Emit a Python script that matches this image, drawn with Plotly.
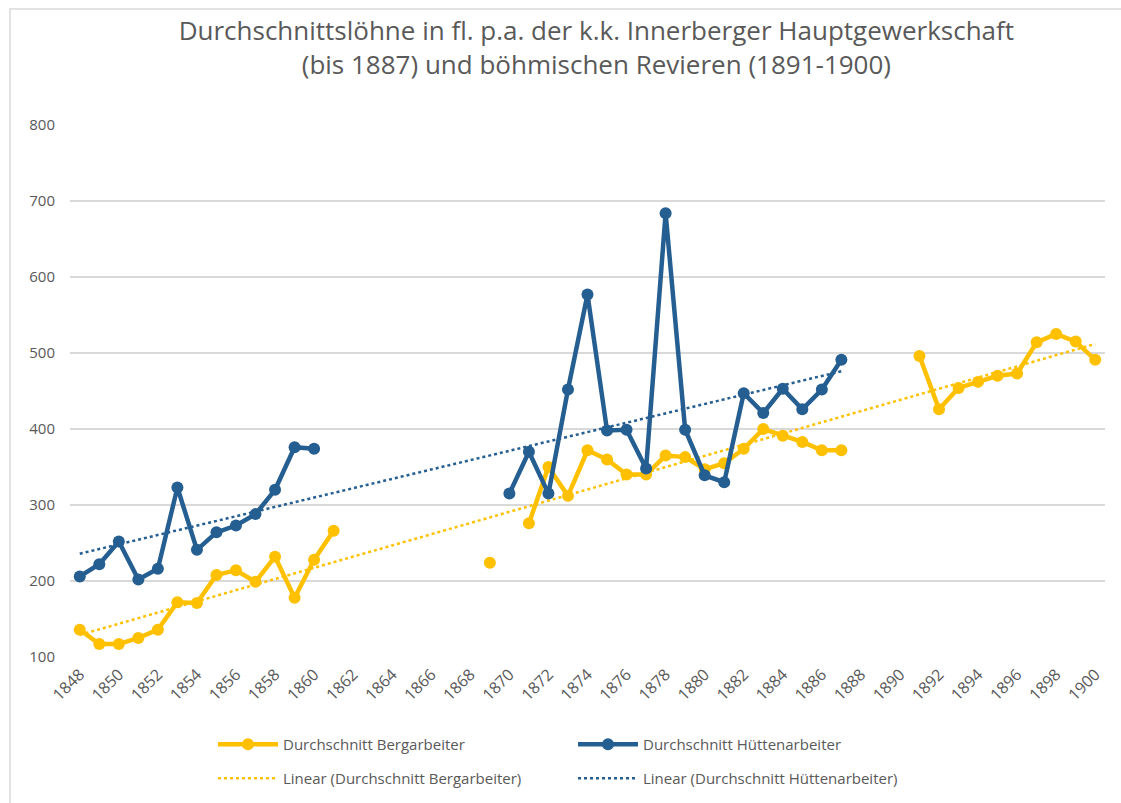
import numpy as np
import plotly.graph_objects as go

years = list(range(1848, 1901))

berg = [136, 117, 117, 125, 136, 172, 171, 208, 214, 199, 232, 178, 228, 266,   # 1848-1861
        None, None, None, None, None, None, None,                                # 1862-1868
        224, None,                                                               # 1869-1870
        276, 350, 312, 372, 360, 340, 340, 365, 363, 347, 355, 374, 400, 391, 383, 372, 372,  # 1871-1887
        None, None, None,                                                        # 1888-1890
        496, 426, 454, 462, 470, 473, 514, 525, 515, 491]                        # 1891-1900

huette = [206, 222, 252, 202, 216, 323, 241, 264, 273, 288, 320, 376, 374,      # 1848-1860
          None, None, None, None, None, None, None, None, None,                  # 1861-1869
          315, 370, 315, 452, 577, 398, 399, 348, 684, 399, 339, 330, 447, 421, 453, 426, 452, 491,  # 1870-1887
          None, None, None, None, None, None, None, None, None, None, None, None, None]  # 1888-1900

tick_years = list(range(1848, 1901, 2))
y_ticks = [100, 200, 300, 400, 500, 600, 700, 800]

title_text = ("Durchschnittslöhne in fl. p.a. der k.k. Innerberger Hauptgewerkschaft<br>"
              "(bis 1887) und böhmischen Revieren (1891-1900)")

YELLOW = "#FFC000"
BLUE = "#255E91"
GRAY = "#595959"
GRID = "#D9D9D9"
FONT = "Open Sans"


def trend(xs, ys):
    pts = [(x, y) for x, y in zip(xs, ys) if y is not None]
    px = np.array([p[0] for p in pts], dtype=float)
    py = np.array([p[1] for p in pts], dtype=float)
    m, b = np.polyfit(px, py, 1)
    x0, x1 = px.min(), px.max()
    return [x0, x1], [m * x0 + b, m * x1 + b]


tbx, tby = trend(years, berg)
thx, thy = trend(years, huette)

fig = go.Figure()

fig.add_trace(go.Scatter(x=tbx, y=tby, mode="lines", name="Linear (Durchschnitt Bergarbeiter)",
                         line=dict(color=YELLOW, width=2.5, dash="dot"), legend="legend2",
                         hoverinfo="skip"))
fig.add_trace(go.Scatter(x=thx, y=thy, mode="lines", name="Linear (Durchschnitt Hüttenarbeiter)",
                         line=dict(color=BLUE, width=2.5, dash="dot"), legend="legend2",
                         hoverinfo="skip"))
fig.add_trace(go.Scatter(x=years, y=berg, mode="lines+markers", name="Durchschnitt Bergarbeiter",
                         line=dict(color=YELLOW, width=4.5), marker=dict(size=12, color=YELLOW),
                         connectgaps=False, legend="legend"))
fig.add_trace(go.Scatter(x=years, y=huette, mode="lines+markers", name="Durchschnitt Hüttenarbeiter",
                         line=dict(color=BLUE, width=4.5), marker=dict(size=12, color=BLUE),
                         connectgaps=False, legend="legend"))

legend_common = dict(orientation="h", xanchor="left", x=(213 - 70) / 1035, yanchor="middle",
                     font=dict(family=FONT, size=15, color=GRAY),
                     bgcolor="rgba(0,0,0,0)", entrywidth=285, itemwidth=60,
                     traceorder="normal")

fig.update_layout(
    width=1121, height=803,
    paper_bgcolor="white", plot_bgcolor="white",
    margin=dict(l=70, r=16, t=125, b=146, autoexpand=False),
    title=dict(text=title_text, x=0.532, xanchor="center", y=0.950, yanchor="top",
               font=dict(family=FONT, size=26, color=GRAY)),
    xaxis=dict(range=[1847.5, 1900.5], tickmode="array", tickvals=tick_years,
               ticktext=[str(t) for t in tick_years], tickangle=-45,
               tickfont=dict(family=FONT, size=16, color=GRAY), ticklabelstandoff=4,
               showgrid=False, zeroline=False, showline=False, ticks=""),
    yaxis=dict(range=[100, 800], tickmode="array", tickvals=y_ticks,
               tickfont=dict(family=FONT, size=15, color=GRAY),
               showgrid=True, gridcolor=GRID, gridwidth=1.5, zeroline=False,
               showline=False, ticks="", ticklabelstandoff=14),
    legend=dict(**legend_common, y=-(744.5 - 657) / 532),
    legend2=dict(**legend_common, y=-(778.5 - 657) / 532),
    shapes=[dict(type="rect", xref="paper", yref="paper",
                 x0=(10 - 70) / 1035, x1=(1130 - 70) / 1035,
                 y0=-(810 - 657) / 532, y1=1 + (125 - 9) / 532,
                 line=dict(color=GRID, width=1.5), fillcolor="rgba(0,0,0,0)", layer="below")],
)

fig.write_html("out.html", config={"displayModeBar": False},
               post_script="document.body.style.margin='0';")
